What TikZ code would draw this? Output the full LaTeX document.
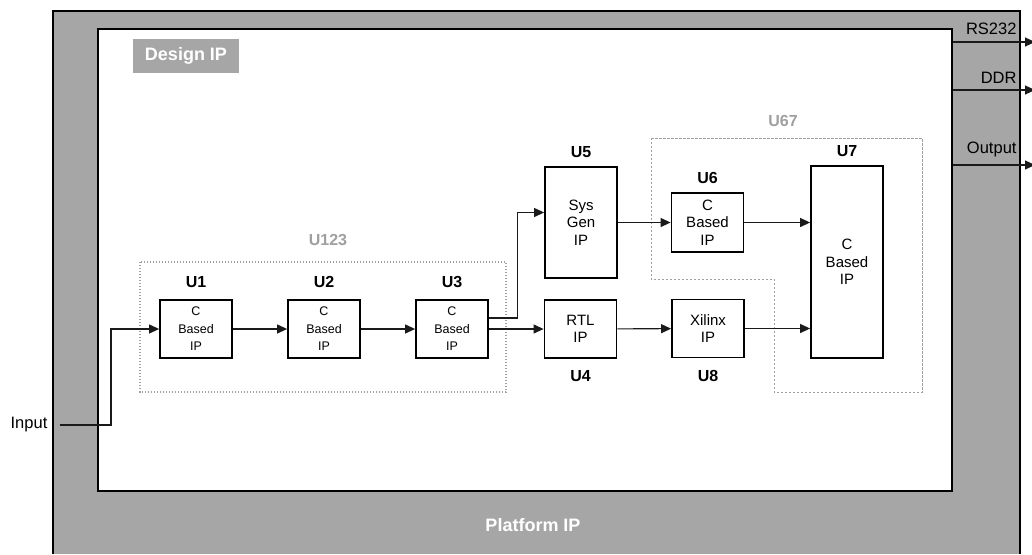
\documentclass[tikz,border=0pt]{standalone}
\usepackage{fontspec}
\setmainfont{Liberation Sans}
\usetikzlibrary{arrows.meta, positioning}
\definecolor{cplat}{HTML}{A6A6A6}
\definecolor{cgroup}{HTML}{A0A0A0}
\definecolor{cwire}{HTML}{1A1A1A}
\tikzset{
  every picture/.style={x=1pt, y=-1pt, line width=1pt},
  ipbox/.style={draw=black, fill=white, line width=1.8pt, align=center, inner sep=0pt, minimum width=72pt, minimum height=#1},
  ipbox/.default=58pt,
  smalltxt/.style={font=\fontsize{12.5}{17.5}\selectfont},
  bigtxt/.style={font=\fontsize{15}{17.5}\selectfont},
  ulabel/.style={font=\fontsize{16}{16}\selectfont\bfseries, inner sep=3pt},
  glabel/.style={ulabel, text=cgroup},
  tag/.style={font=\fontsize{18}{18}\selectfont\bfseries, text=white},
  iolabel/.style={font=\fontsize{16.5}{16.5}\selectfont, inner sep=2pt},
  arrow/.style={-{Triangle[length=10pt, width=9pt]}, draw=cwire, line width=1.1pt},
  group/.style={draw=cgroup, line width=1.2pt, dash pattern=on 1.4pt off 1.6pt},
  group2/.style={draw=cgroup, line width=0.9pt, dash pattern=on 2.5pt off 1.5pt},
}

\begin{document}
\begin{tikzpicture}
  \useasboundingbox (0,0) rectangle (1032,554);
  % Platform IP
  \fill[cplat] (53,11) rectangle (1020,554);
  \draw[line width=1.8pt] (53,554) -- (53,11) -- (1020,11) -- (1020,554);
  \node[tag] (platform) at (533,525) {Platform IP};
  % Design IP
  \node[draw=black, fill=white, line width=1.8pt, minimum width=854pt, minimum height=462pt, inner sep=0pt] (design) at (525,260) {};
  \node[tag, fill=cplat, minimum width=106pt, minimum height=34pt, inner sep=0pt] (designtag) at (186,56) {Design IP};
  % groups
  \draw[group] (140,262) rectangle (506,392);
  \node[glabel] (u123) at (328,240) {U123};
  \draw[group2] (651,138) -- (922,138) -- (922,392) -- (774,392) -- (774,279) -- (651,279) -- cycle;
  \node[glabel] (u67) at (783,121) {U67};
  % blocks
  \node[ipbox, smalltxt] (u1) at (196,329) {C\\Based\\IP};
  \node[ipbox, smalltxt] (u2) at (324,329) {C\\Based\\IP};
  \node[ipbox, smalltxt] (u3) at (452,329) {C\\Based\\IP};
  \node[ipbox, bigtxt] (u4) at (580.5,329) {RTL\\IP};
  \node[ipbox=111pt, bigtxt] (u5) at (581,222.5) {Sys\\Gen\\IP};
  \node[ipbox=59pt, bigtxt] (u6) at (707.5,222.5) {C\\Based\\IP};
  \node[ipbox, bigtxt] (u8) at (708,328.5) {Xilinx\\IP};
  \node[ipbox=192pt, bigtxt] (u7) at (847,262) {C\\Based\\IP};
  \node[ulabel, above=7.5pt of u1] (l1) {U1};
  \node[ulabel, above=7.5pt of u2] (l2) {U2};
  \node[ulabel, above=7.5pt of u3] (l3) {U3};
  \node[ulabel, below=8pt of u4] (l4) {U4};
  \node[ulabel, above=4.5pt of u5] (l5) {U5};
  \node[ulabel, above=4.5pt of u6] (l6) {U6};
  \node[ulabel, above=4.5pt of u7] (l7) {U7};
  \node[ulabel, below=8pt of u8] (l8) {U8};
  % wires
  \node[iolabel] (input) at (29,425) {Input};
  \coordinate (inbend) at (111,425);
  \draw[arrow] ([xshift=10pt]input.east) -- (inbend) |- (u1.west);
  \draw[arrow] (u1) -- (u2);
  \draw[arrow] (u2) -- (u3);
  \draw[arrow] (u3) -- (u4);
  \draw[arrow] ([yshift=11pt]u3.east) -- ++(29,0) |- ([yshift=10pt]u5.west);
  \draw[arrow] (u5.east |- u6.west) -- (u6.west);
  \draw[arrow] (u4) -- (u8);
  \draw[arrow] (u6.east) -- (u6.east -| u7.west);
  \draw[arrow] (u8.east) -- (u8.east -| u7.west);
  % outputs
  \coordinate (rsend) at (1035,42);
  \coordinate (ddrend) at (1035,90);
  \coordinate (outend) at (1035,165);
  \draw[arrow] (rsend -| design.east) -- (rsend);
  \draw[arrow] (ddrend -| design.east) -- (ddrend);
  \draw[arrow] (outend -| design.east) -- (outend);
  \node[iolabel, anchor=east] (rs232) at (1019,29) {RS232};
  \node[iolabel, anchor=east] (ddr) at (1019,78) {DDR};
  \node[iolabel, anchor=east] (output) at (1019,149) {Output};
\end{tikzpicture}
\end{document}
